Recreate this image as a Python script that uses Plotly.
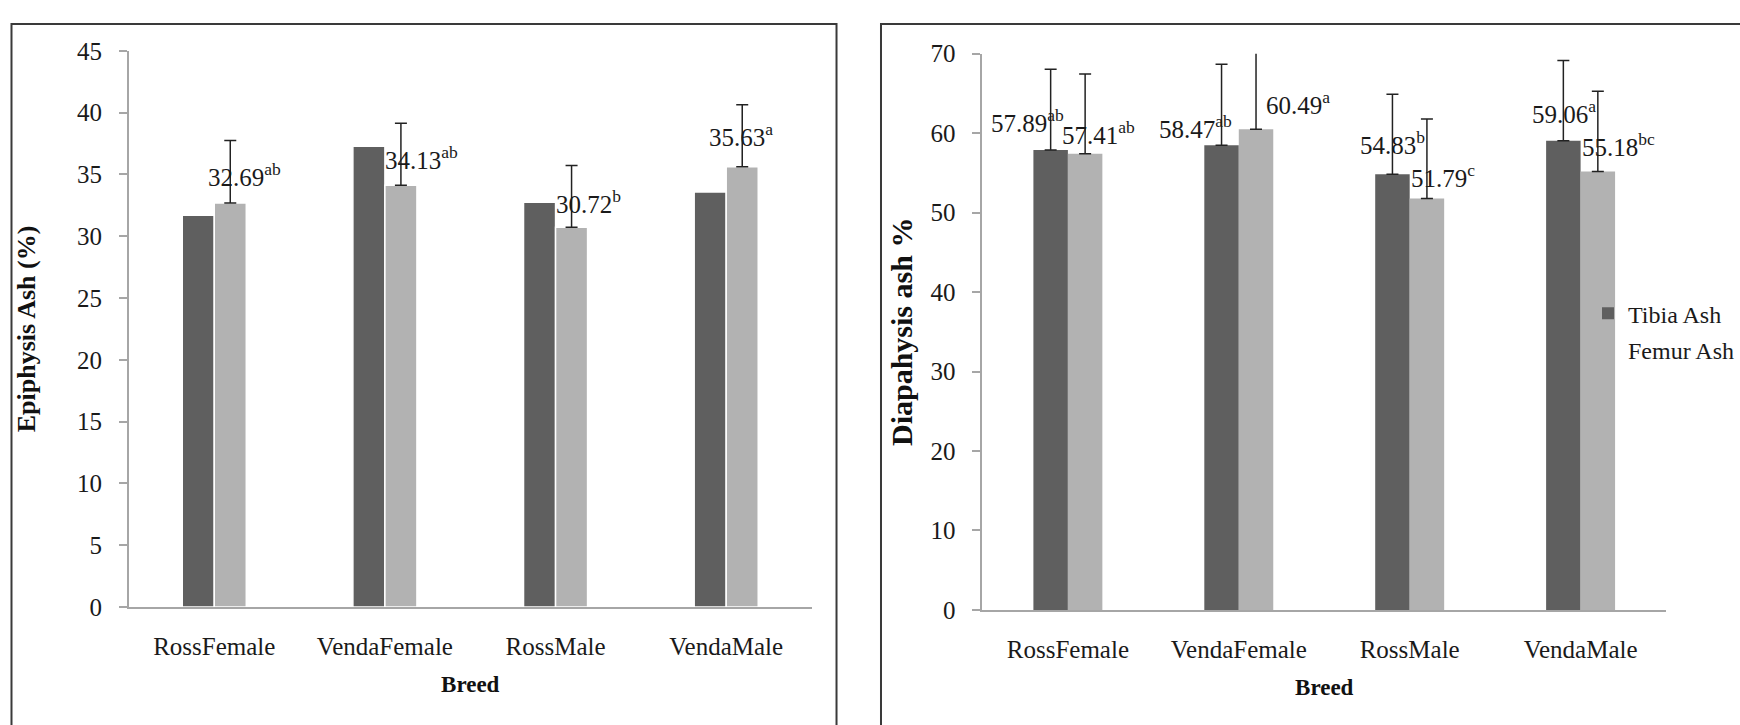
import plotly.graph_objects as go

W, H = 1740, 725

categories = ["RossFemale", "VendaFemale", "RossMale", "VendaMale"]

# Left panel: Epiphysis ash (%)
epi_tibia = [31.70, 37.28, 32.74, 33.57]
epi_femur = [32.69, 34.13, 30.72, 35.63]
epi_femur_err = [5.06, 5.02, 5.00, 5.00]
epi_femur_sup = ["ab", "ab", "b", "a"]

# Right panel: Diaphysis ash %
dia_tibia = [57.89, 58.47, 54.83, 59.06]
dia_femur = [57.41, 60.49, 51.79, 55.18]
dia_tibia_err = [10.16, 10.20, 10.07, 10.10]
dia_femur_err = [10.03, 9.90, 10.00, 10.10]
dia_tibia_sup = ["ab", "ab", "b", "a"]
dia_femur_sup = ["ab", "a", "c", "bc"]

# label placement tweaks (pixels): shift of label centre from bar centre, baseline gap above bar top
epi_femur_lab_dx = [14, 21, 17, -1]
epi_femur_lab_dy = [16, 15, 13, 20]
dia_tibia_lab_dx = [-23, -26, 0, 1]
dia_tibia_lab_dy = [17, 6, 19, 17]
dia_femur_lab_dx = [13, 42, 16, 21]
dia_femur_lab_dy = [9, 14, 10, 14]

TIBIA = "#5f5f5f"
FEMUR = "#b2b2b2"
AXC = "#a6a6a6"
FONT = "Liberation Serif"
TXT = "#1a1a1a"

wL = 32 / 170.5
wR = 34.5 / 171

fig = go.Figure()
err_style = dict(color="#222222", thickness=1.5, width=6)

fig.add_trace(go.Bar(x=categories, y=epi_tibia, name="Tibia Ash", marker=dict(color=TIBIA, line=dict(color="white", width=1.5)),
                     width=wL, offset=-wL, xaxis="x", yaxis="y", showlegend=False, legendgroup="t"))
fig.add_trace(go.Bar(x=categories, y=epi_femur, name="Femur Ash", marker=dict(color=FEMUR, line=dict(color="white", width=1.5)),
                     width=wL, offset=0, xaxis="x", yaxis="y", showlegend=False, legendgroup="f",
                     error_y=dict(type="data", array=epi_femur_err, symmetric=False, arrayminus=[0]*4, **err_style)))
fig.add_trace(go.Bar(x=categories, y=dia_tibia, name="Tibia Ash", marker=dict(color=TIBIA, line=dict(width=0)),
                     width=wR, offset=-wR, xaxis="x2", yaxis="y2", legendgroup="t",
                     error_y=dict(type="data", array=dia_tibia_err, symmetric=False, arrayminus=[0]*4, **err_style)))
fig.add_trace(go.Bar(x=categories, y=dia_femur, name="Femur Ash", marker=dict(color=FEMUR, line=dict(width=0)),
                     width=wR, offset=0, xaxis="x2", yaxis="y2", legendgroup="f",
                     error_y=dict(type="data", array=dia_femur_err, symmetric=False, arrayminus=[0]*4, **err_style)))

annotations = []
def add_labels(vals, sups, dxs, dys, xoff, w, xref, yref):
    for i, (v, s, dx, dy) in enumerate(zip(vals, sups, dxs, dys)):
        annotations.append(dict(
            x=i + xoff * w / 2, y=v, xref=xref, yref=yref,
            text=f"{v:.2f}<sup>{s}</sup>", showarrow=False,
            xanchor="center", yanchor="bottom", xshift=dx, yshift=dy - 6,
            font=dict(family=FONT, size=25, color=TXT)))

add_labels(epi_femur, epi_femur_sup, epi_femur_lab_dx, epi_femur_lab_dy, 1, wL, "x", "y")
add_labels(dia_tibia, dia_tibia_sup, dia_tibia_lab_dx, dia_tibia_lab_dy, -1, wR, "x2", "y2")
add_labels(dia_femur, dia_femur_sup, dia_femur_lab_dx, dia_femur_lab_dy, 1, wR, "x2", "y2")

tickfont = dict(family=FONT, size=25, color=TXT)

xcommon = dict(type="category", showline=True, linecolor=AXC, linewidth=2, ticks="", showgrid=False,
               tickfont=tickfont, ticklabelstandoff=16, fixedrange=True)
ycommon = dict(showline=True, linecolor=AXC, linewidth=2, ticks="outside", ticklen=8, tickwidth=2, tickcolor=AXC,
               showgrid=False, zeroline=False, tickfont=tickfont, ticklabelstandoff=12, fixedrange=True)

fig.update_layout(
    width=W, height=H, autosize=False,
    margin=dict(l=0, r=0, t=0, b=0),
    paper_bgcolor="white", plot_bgcolor="white",
    barmode="group",
    xaxis=dict(domain=[129 / W, 812 / W], anchor="y",
               title=dict(text="<b>Breed</b>", font=dict(family=FONT, size=23, color="#111111"), standoff=17), **xcommon),
    yaxis=dict(domain=[1 - 617 / H, 1 - 39.3 / H], anchor="x", range=[0, 45], dtick=5,
               title=dict(text="<b>Epiphysis Ash (%)</b>", font=dict(family=FONT, size=26, color="#111111"), standoff=34), **ycommon),
    xaxis2=dict(domain=[983 / W, 1667 / W], anchor="y2",
                title=dict(text="<b>Breed</b>", font=dict(family=FONT, size=23, color="#111111"), standoff=17), **xcommon),
    yaxis2=dict(domain=[1 - 620 / H, 1 - 42.3 / H], anchor="x2", range=[0, 70], dtick=10,
                title=dict(text="<b>Diapahysis ash %</b>", font=dict(family=FONT, size=30, color="#111111"), standoff=9), **ycommon),
    legend=dict(x=1589 / W, y=1 - 331 / H, xanchor="left", yanchor="middle",
                font=dict(family=FONT, size=24, color=TXT), bgcolor="rgba(0,0,0,0)", tracegroupgap=2),
    annotations=annotations,
    shapes=[
        dict(type="rect", xref="paper", yref="paper", x0=11.5 / W, x1=837 / W, y0=-0.1, y1=1 - 11.5 / H,
             line=dict(color="#3a3a3a", width=2)),
        dict(type="rect", xref="paper", yref="paper", x0=881.5 / W, x1=1.1, y0=-0.1, y1=1 - 11.5 / H,
             line=dict(color="#3a3a3a", width=2)),
    ],
)

fig.write_html("out.html", config={"displayModeBar": False},
               post_script="document.body.style.margin='0';document.body.style.overflow='hidden';")
